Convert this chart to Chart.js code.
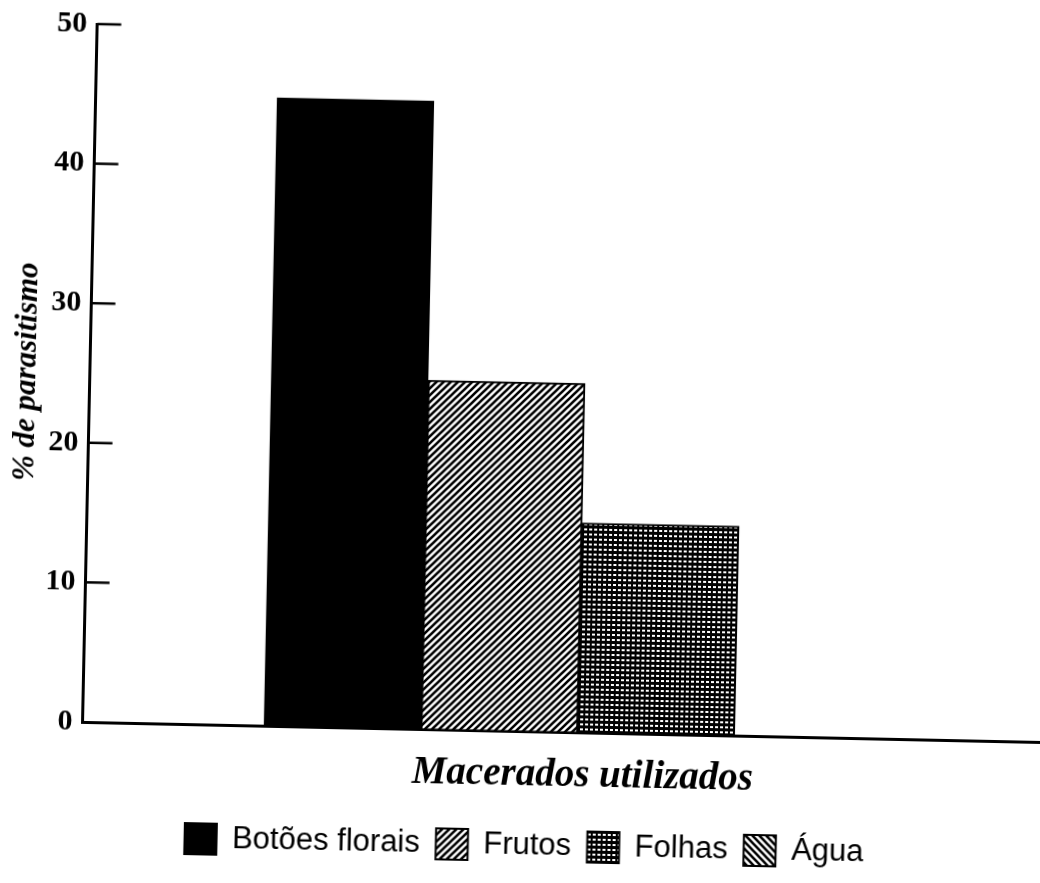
<!DOCTYPE html>
<html>
<head>
<meta charset="utf-8">
<script src="https://cdn.jsdelivr.net/npm/chart.js@4/dist/chart.umd.min.js"></script>
<style>
  html, body { margin: 0; padding: 0; background: #fff; overflow: hidden; width: 1040px; height: 883px; }
  #plot { position: absolute; left: 0; top: 0; transform: rotate(1.2deg); transform-origin: 520px 441.5px; }
</style>
</head>
<body>
<canvas id="plot" width="1090" height="883"></canvas>
<script>
// Percentage of parasitism for each macerate used
const seriesNames = ['Botões florais', 'Frutos', 'Folhas', 'Água'];
const parasitismo = [45, 25, 15, 0];
const yTicks = [0, 10, 20, 30, 40, 50];
const xTitle = 'Macerados utilizados';
const yTitle = '% de parasitismo';

const canvas = document.getElementById('plot');
const ctx = canvas.getContext('2d');

// Hatch fills for the bars and legend boxes
function makePattern(w, h, paint) {
  const c = document.createElement('canvas');
  c.width = w; c.height = h;
  const g = c.getContext('2d');
  g.fillStyle = '#fff';
  g.fillRect(0, 0, w, h);
  paint(g, w, h);
  return ctx.createPattern(c, 'repeat');
}
const diagUp = makePattern(7, 7, (g, s) => {
  g.strokeStyle = '#000'; g.lineWidth = 2.6; g.lineCap = 'square';
  g.beginPath();
  g.moveTo(0, s); g.lineTo(s, 0);
  g.moveTo(-1, 1); g.lineTo(1, -1);
  g.moveTo(s - 1, s + 1); g.lineTo(s + 1, s - 1);
  g.stroke();
});
const diagDown = makePattern(7, 7, (g, s) => {
  g.strokeStyle = '#000'; g.lineWidth = 2.6; g.lineCap = 'square';
  g.beginPath();
  g.moveTo(0, 0); g.lineTo(s, s);
  g.moveTo(-1, s - 1); g.lineTo(1, s + 1);
  g.moveTo(s - 1, -1); g.lineTo(s + 1, 1);
  g.stroke();
});
const grid = makePattern(5, 5, (g) => {
  g.fillStyle = '#000'; g.fillRect(0, 0, 5, 5);
  g.fillStyle = '#fff'; g.fillRect(1, 2, 3, 2);
});
const fills = ['#000', diagUp, grid, diagDown];

// Short tick marks pointing into the plot from the value axis
const inwardTicks = {
  id: 'inwardTicks',
  afterDraw(chart) {
    const y = chart.scales.y;
    const c = chart.ctx;
    const left = chart.chartArea.left;
    c.save();
    c.strokeStyle = '#000';
    c.lineWidth = 2.5;
    y.ticks.forEach(t => {
      if (t.value === 0) return;
      const py = y.getPixelForValue(t.value);
      c.beginPath();
      c.moveTo(left, py);
      c.lineTo(left + 24, py);
      c.stroke();
    });
    c.restore();
  }
};

const serif = '"Liberation Serif", "Times New Roman", serif';
Chart.defaults.color = '#000';

new Chart(ctx, {
  type: 'bar',
  data: {
    datasets: seriesNames.map((name, i) => ({
      label: name,
      data: [{ x: 0, y: parasitismo[i] }],
      backgroundColor: fills[i],
      borderColor: '#000',
      borderWidth: 2,
      borderSkipped: 'start'
    }))
  },
  options: {
    responsive: false,
    animation: false,
    devicePixelRatio: 1,
    layout: { padding: { left: -25, right: 0, top: 33, bottom: 12 } },
    datasets: { bar: { barThickness: 157, grouped: true } },
    plugins: {
      legend: {
        position: 'bottom',
        labels: {
          font: { family: '"Liberation Sans", Arial, sans-serif', size: 31 },
          color: '#000',
          boxWidth: 32,
          boxHeight: 31,
          padding: 16
        }
      },
      tooltip: { enabled: false }
    },
    scales: {
      x: {
        type: 'linear',
        min: -0.4937,
        max: 0.5063,
        ticks: { display: false },
        grid: { display: true, drawOnChartArea: false, drawTicks: false },
        border: { display: true, color: '#000', width: 3 },
        title: {
          display: true,
          text: xTitle,
          color: '#000',
          font: { family: serif, size: 39, weight: 'bold', style: 'italic' },
          padding: { top: 0, bottom: 16 }
        },
        afterFit: s => { s.height = 83; }
      },
      y: {
        min: 0,
        max: 50,
        afterBuildTicks: s => { s.ticks = yTicks.map(v => ({ value: v })); },
        ticks: {
          padding: 10,
          color: '#000',
          font: { family: serif, size: 30, weight: 'bold' }
        },
        grid: { display: true, drawOnChartArea: false, drawTicks: false },
        border: { display: true, color: '#000', width: 3 },
        title: {
          display: true,
          text: yTitle,
          color: '#000',
          font: { family: serif, size: 31, weight: 'bold', style: 'italic' },
          padding: { top: 32, bottom: 0 }
        },
        afterFit: s => { s.width = 113.6; }
      }
    }
  },
  plugins: [inwardTicks]
});
</script>
</body>
</html>
